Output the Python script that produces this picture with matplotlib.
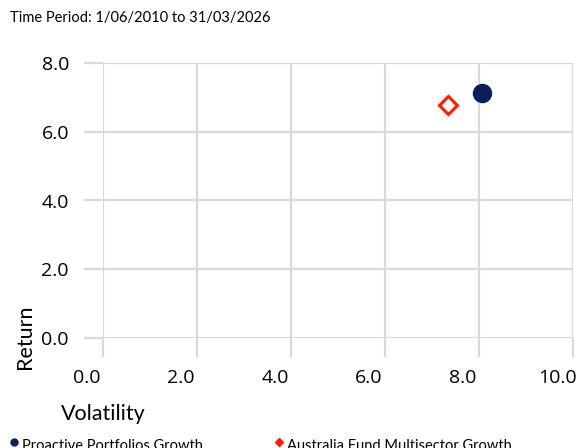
import matplotlib
matplotlib.use("Agg")
import matplotlib.pyplot as plt
from matplotlib.lines import Line2D
from matplotlib.transforms import ScaledTranslation

series_names = ["Proactive Portfolios Growth", "Australia Fund Multisector Growth"]
volatility = [8.06, 7.33]
returns = [7.13, 6.78]
x_ticks = [0.0, 2.0, 4.0, 6.0, 8.0, 10.0]
y_ticks = [0.0, 2.0, 4.0, 6.0, 8.0]
title = "Time Period: 1/06/2010 to 31/03/2026"

navy = "#0c1f5c"
red = "#ff1a00"
grid_c = "#d9d9d9"

fig = plt.figure(figsize=(5.76, 4.48), dpi=100)
ax = fig.add_axes([103/576, 1-338/448, 470/576, 275/448])
ax.set_xlim(0, 10)
ax.set_ylim(0, 8)
ax.set_xticks(x_ticks)
ax.set_yticks(y_ticks)
ax.set_xticklabels([f"{v:.1f}" for v in x_ticks], fontfamily="Open Sans")
ax.set_yticklabels([f"{v:.1f}" for v in y_ticks], fontfamily="Open Sans")
ax.grid(True, color=grid_c, linewidth=1.6)
ax.set_axisbelow(True)
for s in ax.spines.values():
    s.set_visible(False)
ax.tick_params(axis="both", length=14, width=1.6, color=grid_c, labelsize=14)
ax.tick_params(axis="y", pad=10.5)
ax.tick_params(axis="x", pad=8)
off = ScaledTranslation(-16/100, 0, fig.dpi_scale_trans)
for lab in ax.get_xticklabels():
    lab.set_transform(lab.get_transform() + off)

ax.plot(volatility[0], returns[0], marker="o", markersize=13, color=navy, linestyle="none", clip_on=False)
ax.plot(volatility[1], returns[1], marker="D", markersize=9, markerfacecolor="white",
        markeredgecolor=red, markeredgewidth=2.2, linestyle="none", clip_on=False)

fig.text(10/576, 1-18/448, title, fontsize=10.5, fontfamily="Lato", va="center", ha="left")
fig.text(25/576, 1-337/448, "Return", fontsize=15.5, fontfamily="Lato", rotation=90, ha="center", va="center")
fig.text(61/576, 1-414/448, "Volatility", fontsize=15.5, fontfamily="Lato", ha="left", va="center")

# legend
fig.lines.append(Line2D([14/576], [1-442/448], marker="o", markersize=5, color=navy, transform=fig.transFigure))
fig.text(22/576, 1-446/448, series_names[0], fontsize=10.5, fontfamily="Lato", ha="left", va="center")
fig.lines.append(Line2D([279/576], [1-442/448], marker="D", markersize=4.5, color=red, transform=fig.transFigure))
fig.text(287/576, 1-446/448, series_names[1], fontsize=10.5, fontfamily="Lato", ha="left", va="center")

fig.savefig("out.png", dpi=100)
